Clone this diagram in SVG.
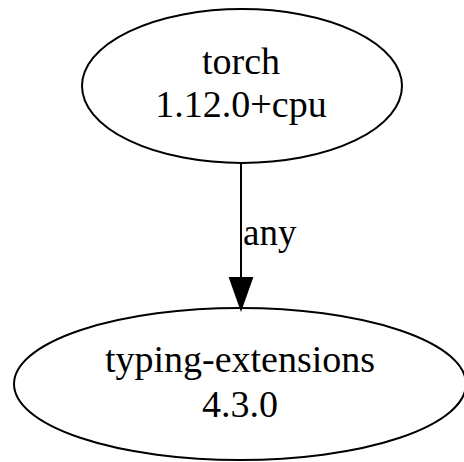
<svg xmlns="http://www.w3.org/2000/svg" width="464" height="462" viewBox="0 0 464 462">
  <style>
    .node ellipse { fill: none; stroke: #000; stroke-width: 2; }
    .label { font-family: "Liberation Serif", "Times New Roman", serif; font-size: 38px; fill: #000; text-anchor: middle; }
    .edge line { stroke: #000; stroke-width: 2; }
    .edge-label { font-family: "Liberation Serif", "Times New Roman", serif; font-size: 37px; fill: #000; }
  </style>
  <rect width="464" height="462" fill="#fff"/>
  <g id="edges" class="edge">
    <line x1="241" y1="162" x2="241" y2="280"/>
    <polygon points="230,278 252,278 241,309" fill="#000" stroke="#000" stroke-width="2"/>
    <text class="edge-label" x="243" y="245">any</text>
  </g>
  <g id="torch" class="node">
    <ellipse cx="242" cy="86" rx="160" ry="77"/>
    <text class="label" x="241" y="74">torch</text>
    <text class="label" x="241" y="117">1.12.0+cpu</text>
  </g>
  <g id="typing-extensions" class="node">
    <ellipse cx="240" cy="384" rx="226" ry="76"/>
    <text class="label" x="240" y="372">typing-extensions</text>
    <text class="label" x="240" y="417">4.3.0</text>
  </g>
</svg>
